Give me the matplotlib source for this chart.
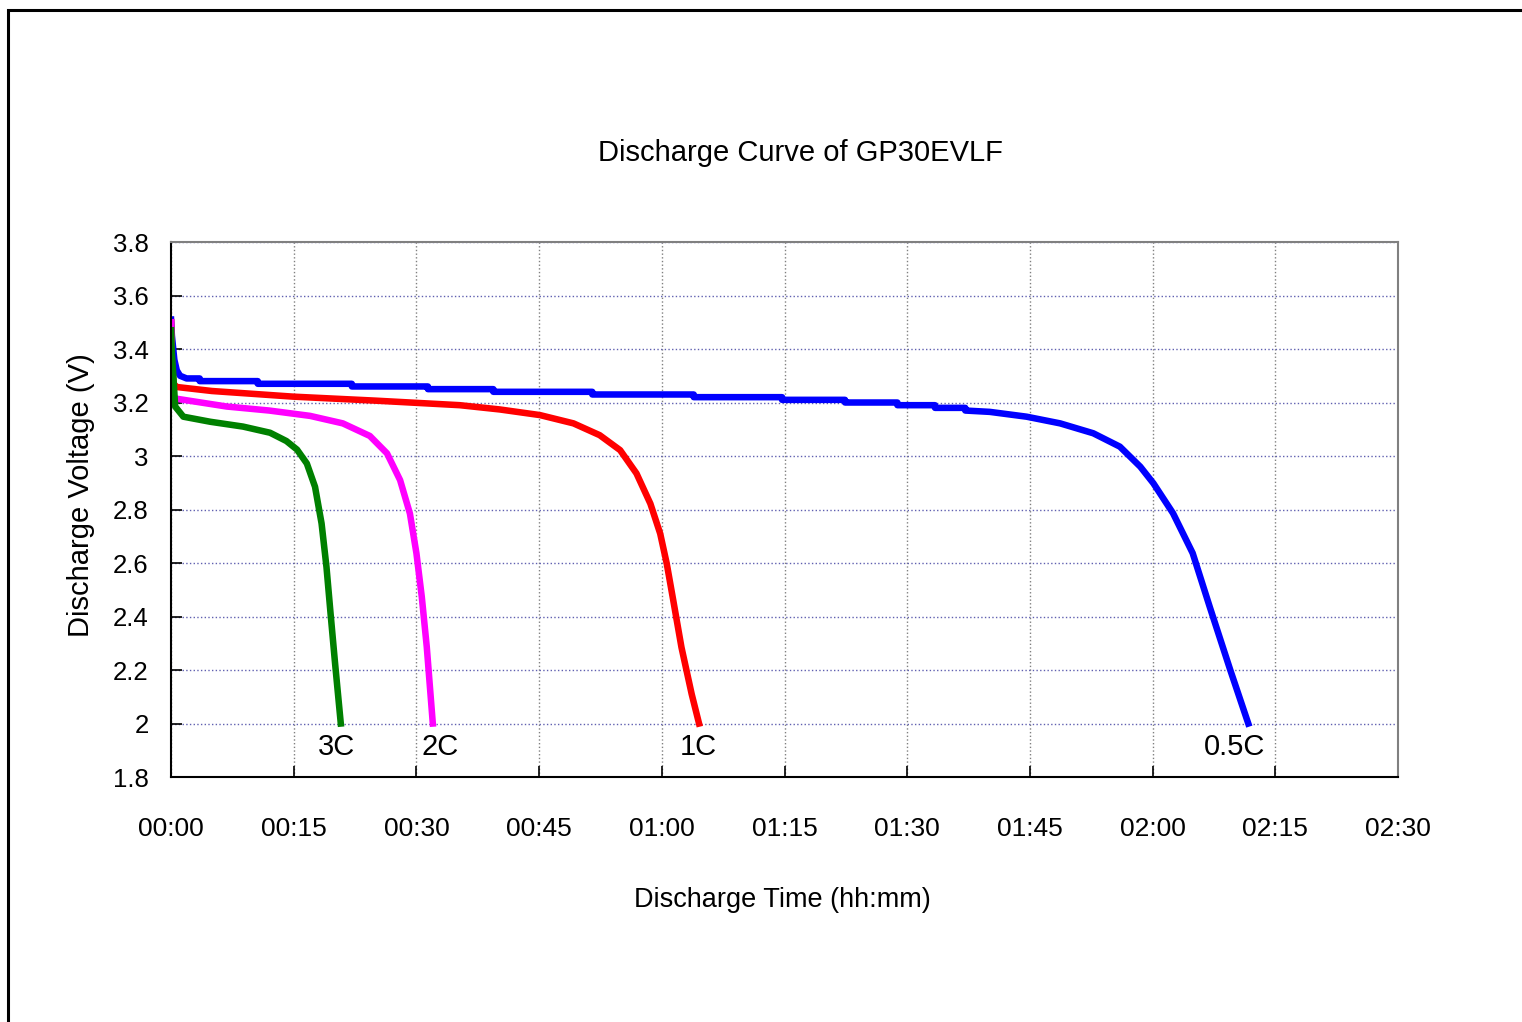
import matplotlib
matplotlib.use("Agg")
import matplotlib.pyplot as plt
from matplotlib.ticker import FuncFormatter, MultipleLocator
from matplotlib.patches import Rectangle

plt.rcParams['font.family'] = ['Liberation Sans', 'DejaVu Sans']

# discharge time in minutes, voltage in V
t_05c = [0, 0.1, 0.4, 0.7, 1.1, 1.9, 3.5, 3.5, 10.6, 10.6, 22.1, 22.1, 31.4, 31.4,
         39.4, 39.4, 51.5, 51.5, 63.9, 63.9, 74.7, 74.7, 82.4, 82.4, 88.8, 88.8,
         93.4, 93.4, 97.1, 97.1, 100.1, 104.6, 108.7, 112.75, 116.0, 118.5, 120.1,
         122.5, 124.9, 127.0, 129.5, 131.7]
v_05c = [3.51, 3.45, 3.36, 3.32, 3.30, 3.29, 3.29, 3.28, 3.28, 3.27, 3.27, 3.26,
         3.26, 3.25, 3.25, 3.24, 3.24, 3.23, 3.23, 3.22, 3.22, 3.21, 3.21, 3.20,
         3.20, 3.19, 3.19, 3.18, 3.18, 3.17, 3.165, 3.147, 3.122, 3.085, 3.035,
         2.96, 2.898, 2.786, 2.637, 2.435, 2.20, 2.00]

t_1c = [0, 0.1, 0.3, 0.7, 5.0, 14.9, 25.0, 35.3, 40.2, 45.1, 49.2, 52.4, 54.9,
        56.9, 58.6, 59.8, 60.6, 61.4, 62.4, 63.65, 64.55]
v_1c = [3.50, 3.35, 3.27, 3.258, 3.243, 3.222, 3.207, 3.19, 3.174, 3.153, 3.122,
        3.078, 3.022, 2.935, 2.822, 2.71, 2.598, 2.46, 2.285, 2.11, 2.00]

t_2c = [0, 0.1, 0.25, 0.5, 6.8, 12.0, 17.0, 21.0, 24.3, 26.4, 28.0, 29.2, 30.0,
        30.65, 31.26, 32.0]
v_2c = [3.50, 3.32, 3.23, 3.215, 3.185, 3.17, 3.15, 3.122, 3.075, 3.01, 2.91,
        2.785, 2.636, 2.474, 2.287, 2.00]

t_3c = [0, 0.1, 0.28, 0.5, 1.5, 4.8, 8.8, 12.1, 14.1, 15.4, 16.6, 17.6, 18.4,
        19.0, 19.5, 20.05, 20.75]
v_3c = [3.47, 3.38, 3.30, 3.185, 3.147, 3.128, 3.11, 3.087, 3.056, 3.024, 2.972,
        2.885, 2.748, 2.585, 2.411, 2.225, 2.00]

labels = ['3C', '2C', '1C', '0.5C']
label_t = [20.2, 32.9, 64.4, 130.0]

fig = plt.figure(figsize=(15.22, 10.22), dpi=100)
ax = fig.add_axes([0.1124, 0.2397, 0.8061, 0.5235])

# outer frame
fig.patches.append(Rectangle((8 / 1522, -0.1), 1.2, 1.1 - 10 / 1022,
                             transform=fig.transFigure, fill=False,
                             edgecolor='black', linewidth=2.2))

lw = 4.7
ax.plot(t_05c, v_05c, color='#0000ff', lw=lw)
ax.plot(t_1c, v_1c, color='#ff0000', lw=lw)
ax.plot(t_2c, v_2c, color='#ff00ff', lw=lw)
ax.plot(t_3c, v_3c, color='#008000', lw=lw)

for lab, lt in zip(labels, label_t):
    ax.text(lt, 1.913, lab, ha='center', va='center', fontsize=21)

ax.set_xlim(0, 150)
ax.set_ylim(1.8, 3.8)
ax.xaxis.set_major_locator(MultipleLocator(15))
ax.yaxis.set_major_locator(MultipleLocator(0.2))
ax.xaxis.set_major_formatter(FuncFormatter(lambda v, p: "%02d:%02d" % (int(round(v)) // 60, int(round(v)) % 60)))
ax.yaxis.set_major_formatter(FuncFormatter(lambda v, p: ("%.1f" % v).rstrip('0').rstrip('.')))

ax.xaxis.grid(True, color='#808080', linestyle=':', linewidth=1.0)
ax.yaxis.grid(True, color='#6060b0', linestyle=':', linewidth=1.0)
ax.set_axisbelow(True)

ax.tick_params(axis='x', direction='in', length=8, width=1.2, pad=29, labelsize=19)
ax.tick_params(axis='y', direction='in', length=8, width=1.2, pad=16, labelsize=18.5)

for s in ['left', 'bottom']:
    ax.spines[s].set_color('black')
    ax.spines[s].set_linewidth(1.5)
for s in ['top', 'right']:
    ax.spines[s].set_color('#808080')
    ax.spines[s].set_linewidth(1.5)

fig.text(800 / 1522, 1 - 153 / 1022, 'Discharge Curve of GP30EVLF', ha='center',
         va='center', fontsize=21)
fig.text(782 / 1522, 1 - 900 / 1022, 'Discharge Time (hh:mm)', ha='center',
         va='center', fontsize=19.5)
fig.text(81 / 1522, 1 - 495 / 1022, 'Discharge Voltage (V)', ha='center',
         va='center', fontsize=21, rotation=90)

fig.savefig('out.png', dpi=100)
